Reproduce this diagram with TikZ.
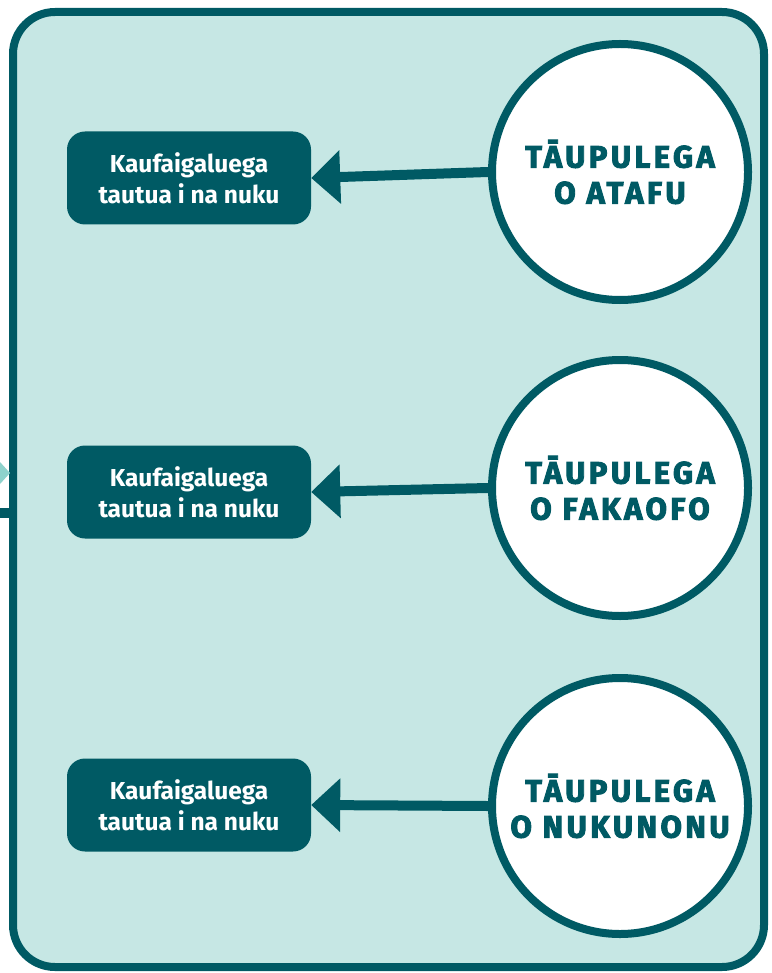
\documentclass[tikz,border=0pt]{standalone}
\usepackage{fontspec}
\setmainfont{Fira Sans}
\newfontfamily\dispfont[LetterSpace=11,BoldFeatures={FakeBold=3}]{Fira Sans}
\usetikzlibrary{arrows.meta}
\definecolor{dk}{HTML}{005A64}
\definecolor{lt}{HTML}{C6E7E4}
\definecolor{tri}{HTML}{8ED2CC}
\begin{document}
\begin{tikzpicture}[x=1pt,y=-1pt,
  boxst/.style={fill=dk, rounded corners=18pt, minimum width=244pt, minimum height=93pt, text=white, align=center, font=\fontsize{24.5}{31}\selectfont\bfseries, inner sep=0pt},
  circst/.style={circle, draw=dk, line width=8pt, fill=white, minimum size=256pt, inner sep=0pt, align=center, text=dk, font=\dispfont\fontsize{31}{36}\selectfont\bfseries},
  arr/.style={draw=dk, line width=10pt, -{Triangle[length=29pt,width=52pt]}}]
\useasboundingbox (0,0) rectangle (771,973);
\draw[dk, line width=8pt, fill=lt, rounded corners=42pt] (13,12) rectangle (764,967);
\fill[tri] (0,462) -- (10,473) -- (0,484) -- cycle;
\fill[dk] (0,508) rectangle (13,518);
\node[circst] (c1) at (620,172) {TĀUPULEGA\\O ATAFU};
\node[circst] (c2) at (620,488) {TĀUPULEGA\\O FAKAOFO};
\node[circst] (c3) at (620,806) {TĀUPULEGA\\O NUKUNONU};
\node[boxst] (b1) at (189,178) {Kaufaigaluega\\tautua i na nuku};
\node[boxst] (b2) at (189,492) {Kaufaigaluega\\tautua i na nuku};
\node[boxst] (b3) at (189,805) {Kaufaigaluega\\tautua i na nuku};
\draw[arr] (c1.west) -- (b1.east);
\draw[arr] (c2.west) -- (b2.east);
\draw[arr] (c3.west) -- (b3.east);
\end{tikzpicture}
\end{document}
